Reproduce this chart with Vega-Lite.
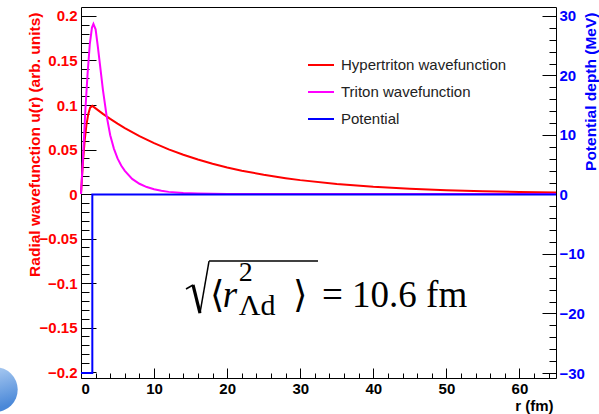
{
  "$schema": "https://vega.github.io/schema/vega-lite/v6.json",
  "width": 475,
  "height": 371,
  "autosize": {"type": "none"},
  "padding": {"left": 81, "top": 7, "right": 43, "bottom": 36},
  "background": "white",
  "config": {
    "view": {"stroke": "black", "strokeWidth": 1},
    "axis": {"grid": false, "domain": false, "labelFont": "Liberation Sans", "labelFontWeight": "bold", "labelFontSize": 15, "titleFont": "Liberation Sans", "titleFontWeight": "bold", "titleFontSize": 15.5, "tickColor": "black", "tickWidth": 1}
  },
  "resolve": {"scale": {"y": "independent"}, "axis": {"x": "independent", "y": "independent"}},
  "layer": [
    {
      "data": {"values": [
        {"r": 0, "u": 0, "series": "Hypertriton wavefunction"},
        {"r": 0.25, "u": 0.034, "series": "Hypertriton wavefunction"},
        {"r": 0.5, "u": 0.06, "series": "Hypertriton wavefunction"},
        {"r": 0.75, "u": 0.078, "series": "Hypertriton wavefunction"},
        {"r": 1.0, "u": 0.09, "series": "Hypertriton wavefunction"},
        {"r": 1.25, "u": 0.097, "series": "Hypertriton wavefunction"},
        {"r": 1.55, "u": 0.099, "series": "Hypertriton wavefunction"},
        {"r": 2, "u": 0.0962, "series": "Hypertriton wavefunction"},
        {"r": 3, "u": 0.0901, "series": "Hypertriton wavefunction"},
        {"r": 4, "u": 0.0844, "series": "Hypertriton wavefunction"},
        {"r": 5, "u": 0.0791, "series": "Hypertriton wavefunction"},
        {"r": 6, "u": 0.0741, "series": "Hypertriton wavefunction"},
        {"r": 8, "u": 0.0651, "series": "Hypertriton wavefunction"},
        {"r": 10, "u": 0.0572, "series": "Hypertriton wavefunction"},
        {"r": 12, "u": 0.0502, "series": "Hypertriton wavefunction"},
        {"r": 14, "u": 0.0441, "series": "Hypertriton wavefunction"},
        {"r": 16, "u": 0.0387, "series": "Hypertriton wavefunction"},
        {"r": 18, "u": 0.034, "series": "Hypertriton wavefunction"},
        {"r": 20, "u": 0.0298, "series": "Hypertriton wavefunction"},
        {"r": 22, "u": 0.0262, "series": "Hypertriton wavefunction"},
        {"r": 25, "u": 0.0216, "series": "Hypertriton wavefunction"},
        {"r": 28, "u": 0.0178, "series": "Hypertriton wavefunction"},
        {"r": 30, "u": 0.0156, "series": "Hypertriton wavefunction"},
        {"r": 35, "u": 0.0113, "series": "Hypertriton wavefunction"},
        {"r": 40, "u": 0.0081, "series": "Hypertriton wavefunction"},
        {"r": 45, "u": 0.0059, "series": "Hypertriton wavefunction"},
        {"r": 50, "u": 0.0042, "series": "Hypertriton wavefunction"},
        {"r": 55, "u": 0.0031, "series": "Hypertriton wavefunction"},
        {"r": 60, "u": 0.0022, "series": "Hypertriton wavefunction"},
        {"r": 65, "u": 0.0016, "series": "Hypertriton wavefunction"}
      ]},
      "mark": {"type": "line", "strokeWidth": 2},
      "encoding": {
        "x": {"field": "r", "type": "quantitative", "scale": {"domain": [0, 65]},
          "axis": {"orient": "bottom", "ticks": false, "labels": true, "values": [0, 10, 20, 30, 40, 50, 60], "format": "d", "labelPadding": 3, "labelColor": "black",
            "title": "r (fm)", "titleFontSize": 15, "titleColor": "black", "titleX": 472, "titleY": 32, "titleAlign": "right", "titleBaseline": "alphabetic"}},
        "y": {"field": "u", "type": "quantitative", "scale": {"domain": [-0.2067, 0.2101], "nice": false, "zero": false},
          "axis": {"orient": "left", "ticks": false, "values": [-0.2, -0.15, -0.1, -0.05, 0, 0.05, 0.1, 0.15, 0.2], "format": "~g", "labelExpr": "replace(datum.label, '-', '−')", "labelPadding": 4, "labelColor": "#ff0000",
            "title": "Radial wavefunction u(r) (arb. units)", "titleColor": "#ff0000", "titleAngle": 270, "titleX": -47, "titleY": 5, "titleAlign": "right", "titleBaseline": "middle"}},
        "color": {"field": "series", "type": "nominal",
          "scale": {"domain": ["Hypertriton wavefunction", "Triton wavefunction", "Potential"], "range": ["#ff0000", "#ff00ff", "#0000ff"]},
          "legend": {"orient": "none", "legendX": 226, "legendY": 44, "title": null, "symbolType": "stroke", "symbolSize": 676, "symbolStrokeWidth": 2, "labelFont": "Liberation Sans", "labelFontSize": 15, "labelColor": "#222222", "labelOffset": 6, "labelLimit": 0, "rowPadding": 5, "padding": 0}}
      }
    },
    {
      "data": {"values": [
        {"r": 0, "u": 0, "series": "Triton wavefunction"},
        {"r": 0.3, "u": 0.045, "series": "Triton wavefunction"},
        {"r": 0.6, "u": 0.095, "series": "Triton wavefunction"},
        {"r": 0.9, "u": 0.135, "series": "Triton wavefunction"},
        {"r": 1.2, "u": 0.168, "series": "Triton wavefunction"},
        {"r": 1.5, "u": 0.187, "series": "Triton wavefunction"},
        {"r": 1.7, "u": 0.191, "series": "Triton wavefunction"},
        {"r": 2.0, "u": 0.185, "series": "Triton wavefunction"},
        {"r": 2.3, "u": 0.166, "series": "Triton wavefunction"},
        {"r": 2.6, "u": 0.145, "series": "Triton wavefunction"},
        {"r": 3.0, "u": 0.117, "series": "Triton wavefunction"},
        {"r": 3.5, "u": 0.088, "series": "Triton wavefunction"},
        {"r": 4.0, "u": 0.066, "series": "Triton wavefunction"},
        {"r": 4.5, "u": 0.051, "series": "Triton wavefunction"},
        {"r": 5.0, "u": 0.04, "series": "Triton wavefunction"},
        {"r": 5.5, "u": 0.032, "series": "Triton wavefunction"},
        {"r": 6.0, "u": 0.026, "series": "Triton wavefunction"},
        {"r": 7.0, "u": 0.017, "series": "Triton wavefunction"},
        {"r": 8.0, "u": 0.0115, "series": "Triton wavefunction"},
        {"r": 9.0, "u": 0.0078, "series": "Triton wavefunction"},
        {"r": 10, "u": 0.0053, "series": "Triton wavefunction"},
        {"r": 11, "u": 0.0036, "series": "Triton wavefunction"},
        {"r": 12, "u": 0.0024, "series": "Triton wavefunction"},
        {"r": 14, "u": 0.0011, "series": "Triton wavefunction"},
        {"r": 16, "u": 0.0005, "series": "Triton wavefunction"},
        {"r": 18, "u": 0.0002, "series": "Triton wavefunction"},
        {"r": 20, "u": 0.0001, "series": "Triton wavefunction"},
        {"r": 25, "u": 0, "series": "Triton wavefunction"},
        {"r": 65, "u": 0, "series": "Triton wavefunction"}
      ]},
      "mark": {"type": "line", "strokeWidth": 2},
      "encoding": {
        "x": {"field": "r", "type": "quantitative", "scale": {"domain": [0, 65]},
          "axis": {"orient": "bottom", "ticks": true, "labels": false, "tickSize": -10, "values": [0, 10, 20, 30, 40, 50, 60], "title": null}},
        "y": {"field": "u", "type": "quantitative", "scale": {"domain": [-0.2067, 0.2101], "nice": false, "zero": false},
          "axis": {"orient": "left", "ticks": true, "labels": false, "tickSize": -15, "values": [-0.2, -0.15, -0.1, -0.05, 0, 0.05, 0.1, 0.15, 0.2], "title": null}},
        "color": {"field": "series", "type": "nominal"}
      }
    },
    {
      "data": {"values": [
        {"r": 0, "V": -30, "i": 0, "series": "Potential"},
        {"r": 1.55, "V": -30, "i": 1, "series": "Potential"},
        {"r": 1.55, "V": 0, "i": 2, "series": "Potential"},
        {"r": 65, "V": 0, "i": 3, "series": "Potential"}
      ]},
      "mark": {"type": "line", "strokeWidth": 2},
      "encoding": {
        "x": {"field": "r", "type": "quantitative", "scale": {"domain": [0, 65]},
          "axis": {"orient": "bottom", "ticks": true, "labels": false, "tickSize": -5, "values": [2, 4, 6, 8, 12, 14, 16, 18, 22, 24, 26, 28, 32, 34, 36, 38, 42, 44, 46, 48, 52, 54, 56, 58, 62, 64], "title": null}},
        "y": {"field": "V", "type": "quantitative", "scale": {"domain": [-30.84, 31.51], "nice": false, "zero": false},
          "axis": {"orient": "right", "ticks": false, "values": [-30, -20, -10, 0, 10, 20, 30], "format": "d", "labelExpr": "replace(datum.label, '-', '−')", "labelPadding": 3, "labelColor": "#0000ff",
            "title": "Potential depth (MeV)", "titleColor": "#0000ff", "titleAngle": 270, "titleX": 34, "titleY": 5, "titleAlign": "right", "titleBaseline": "middle"}},
        "order": {"field": "i", "type": "quantitative"},
        "color": {"field": "series", "type": "nominal"}
      }
    },
    {
      "data": {"values": [{}]},
      "mark": {"type": "point", "opacity": 0},
      "encoding": {
        "y": {"datum": 0, "type": "quantitative", "scale": {"domain": [-0.2067, 0.2101], "nice": false, "zero": false},
          "axis": {"orient": "left", "ticks": true, "labels": false, "tickSize": -8, "title": null,
            "values": [-0.19, -0.18, -0.17, -0.16, -0.14, -0.13, -0.12, -0.11, -0.09, -0.08, -0.07, -0.06, -0.04, -0.03, -0.02, -0.01, 0.01, 0.02, 0.03, 0.04, 0.06, 0.07, 0.08, 0.09, 0.11, 0.12, 0.13, 0.14, 0.16, 0.17, 0.18, 0.19]}}
      }
    },
    {
      "data": {"values": [{}]},
      "mark": {"type": "point", "opacity": 0},
      "encoding": {
        "y": {"datum": 0, "type": "quantitative", "scale": {"domain": [-30.84, 31.51], "nice": false, "zero": false},
          "axis": {"orient": "right", "ticks": true, "labels": false, "tickSize": -14, "title": null, "values": [-30, -20, -10, 0, 10, 20, 30]}}
      }
    },
    {
      "data": {"values": [{}]},
      "mark": {"type": "point", "opacity": 0},
      "encoding": {
        "y": {"datum": 0, "type": "quantitative", "scale": {"domain": [-30.84, 31.51], "nice": false, "zero": false},
          "axis": {"orient": "right", "ticks": true, "labels": false, "tickSize": -7, "title": null,
            "values": [-28, -26, -24, -22, -18, -16, -14, -12, -8, -6, -4, -2, 2, 4, 6, 8, 12, 14, 16, 18, 22, 24, 26, 28, 30]}}
      }
    },
    {
      "data": {"values": [{}]},
      "mark": {"type": "rule", "color": "black", "strokeWidth": 1.5},
      "encoding": {
        "x": {"datum": 14.37, "type": "quantitative", "scale": {"domain": [0, 65]}, "axis": null},
        "x2": {"datum": 15.33},
        "y": {"datum": -0.1067, "type": "quantitative", "scale": {"domain": [-0.2067, 0.2101], "nice": false, "zero": false}, "axis": null},
        "y2": {"datum": -0.1022}
      }
    },
    {
      "data": {"values": [{}]},
      "mark": {"type": "rule", "color": "black", "strokeWidth": 3.2},
      "encoding": {
        "x": {"datum": 15.33, "type": "quantitative", "scale": {"domain": [0, 65]}, "axis": null},
        "x2": {"datum": 16.28},
        "y": {"datum": -0.1022, "type": "quantitative", "scale": {"domain": [-0.2067, 0.2101], "nice": false, "zero": false}, "axis": null},
        "y2": {"datum": -0.1337}
      }
    },
    {
      "data": {"values": [{}]},
      "mark": {"type": "rule", "color": "black", "strokeWidth": 1.5},
      "encoding": {
        "x": {"datum": 16.28, "type": "quantitative", "scale": {"domain": [0, 65]}, "axis": null},
        "x2": {"datum": 17.52},
        "y": {"datum": -0.1337, "type": "quantitative", "scale": {"domain": [-0.2067, 0.2101], "nice": false, "zero": false}, "axis": null},
        "y2": {"datum": -0.0753}
      }
    },
    {
      "data": {"values": [{}]},
      "mark": {"type": "rule", "color": "black", "strokeWidth": 1.6},
      "encoding": {
        "x": {"datum": 17.52, "type": "quantitative", "scale": {"domain": [0, 65]}, "axis": null},
        "x2": {"datum": 32.43},
        "y": {"datum": -0.0753, "type": "quantitative", "scale": {"domain": [-0.2067, 0.2101], "nice": false, "zero": false}, "axis": null}
      }
    },
    {
      "data": {"values": [{}]},
      "mark": {"type": "text", "text": "⟨", "font": "Liberation Serif", "fontSize": 37, "align": "left", "baseline": "alphabetic", "color": "black"},
      "encoding": {
        "x": {"datum": 17.65, "type": "quantitative", "scale": {"domain": [0, 65]}, "axis": null},
        "y": {"datum": -0.1264, "type": "quantitative", "scale": {"domain": [-0.2067, 0.2101], "nice": false, "zero": false}, "axis": null}
      }
    },
    {
      "data": {"values": [{}]},
      "mark": {"type": "text", "text": "r", "font": "Liberation Serif", "fontStyle": "italic", "fontSize": 37, "align": "left", "baseline": "alphabetic", "color": "black"},
      "encoding": {
        "x": {"datum": 19.4, "type": "quantitative", "scale": {"domain": [0, 65]}, "axis": null},
        "y": {"datum": -0.1264, "type": "quantitative", "scale": {"domain": [-0.2067, 0.2101], "nice": false, "zero": false}, "axis": null}
      }
    },
    {
      "data": {"values": [{}]},
      "mark": {"type": "text", "text": "2", "font": "Liberation Serif", "fontSize": 28, "align": "left", "baseline": "alphabetic", "color": "black"},
      "encoding": {
        "x": {"datum": 21.6, "type": "quantitative", "scale": {"domain": [0, 65]}, "axis": null},
        "y": {"datum": -0.0977, "type": "quantitative", "scale": {"domain": [-0.2067, 0.2101], "nice": false, "zero": false}, "axis": null}
      }
    },
    {
      "data": {"values": [{}]},
      "mark": {"type": "text", "text": "Λd", "font": "Liberation Serif", "fontSize": 30, "align": "left", "baseline": "alphabetic", "color": "black"},
      "encoding": {
        "x": {"datum": 21.6, "type": "quantitative", "scale": {"domain": [0, 65]}, "axis": null},
        "y": {"datum": -0.136, "type": "quantitative", "scale": {"domain": [-0.2067, 0.2101], "nice": false, "zero": false}, "axis": null}
      }
    },
    {
      "data": {"values": [{}]},
      "mark": {"type": "text", "text": "⟩", "font": "Liberation Serif", "fontSize": 37, "align": "left", "baseline": "alphabetic", "color": "black"},
      "encoding": {
        "x": {"datum": 29.0, "type": "quantitative", "scale": {"domain": [0, 65]}, "axis": null},
        "y": {"datum": -0.1264, "type": "quantitative", "scale": {"domain": [-0.2067, 0.2101], "nice": false, "zero": false}, "axis": null}
      }
    },
    {
      "data": {"values": [{}]},
      "mark": {"type": "text", "text": "= 10.6 fm", "font": "Liberation Serif", "fontSize": 37, "align": "left", "baseline": "alphabetic", "color": "black"},
      "encoding": {
        "x": {"datum": 32.98, "type": "quantitative", "scale": {"domain": [0, 65]}, "axis": null},
        "y": {"datum": -0.1264, "type": "quantitative", "scale": {"domain": [-0.2067, 0.2101], "nice": false, "zero": false}, "axis": null}
      }
    },
    {
      "data": {"values": [{}]},
      "mark": {"type": "point", "filled": true, "size": 2011, "clip": false, "opacity": 1,
        "color": {"gradient": "linear", "x1": 0, "y1": 0, "x2": 0.3, "y2": 1, "stops": [{"offset": 0, "color": "#b8d4f5"}, {"offset": 1, "color": "#4a88d8"}]}},
      "encoding": {
        "x": {"datum": -11.73, "type": "quantitative", "scale": {"domain": [0, 65]}, "axis": null},
        "y": {"datum": -0.2197, "type": "quantitative", "scale": {"domain": [-0.2067, 0.2101], "nice": false, "zero": false}, "axis": null}
      }
    }
  ]
}
